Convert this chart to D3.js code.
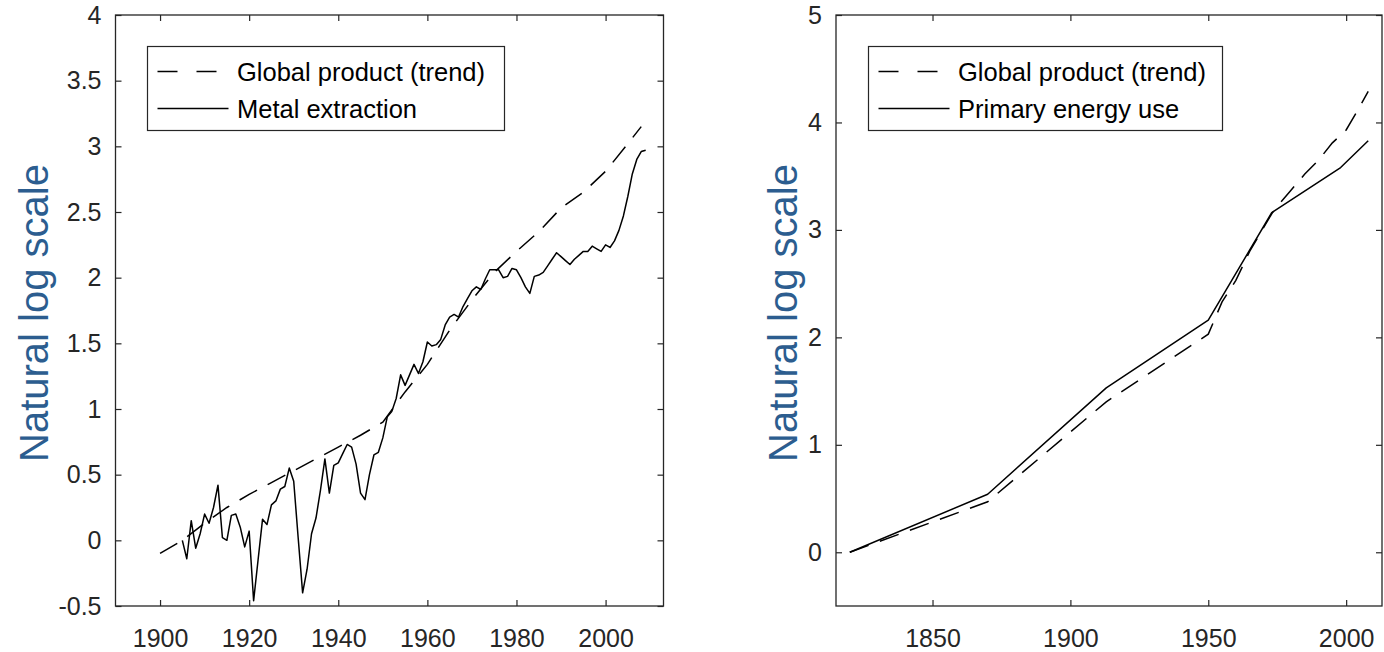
<!DOCTYPE html>
<html><head><meta charset="utf-8">
<script src="https://cdn.jsdelivr.net/npm/d3@7"></script>
<style>body{margin:0;background:#fff} svg{display:block}</style>
</head><body>
<svg id="c" width="1384" height="652"></svg>
<script>
// ---- Left panel data ----
const trendYearsA = [1900,1905,1910,1915,1920,1925,1930,1935,1940,1945,1950,1955,1960,1965,1970,1975,1980,1985,1990,1995,2000,2005,2008];
const trendValuesA = [-0.10,0.00,0.13,0.25,0.35,0.44,0.53,0.62,0.71,0.80,0.90,1.13,1.34,1.60,1.83,2.04,2.20,2.35,2.53,2.65,2.81,3.02,3.15];
const metalYears = [1905,1906,1907,1908,1909,1910,1911,1912,1913,1914,1915,1916,1917,1918,1919,1920,1921,1922,1923,1924,1925,1926,1927,1928,1929,1930,1931,1932,1933,1934,1935,1936,1937,1938,1939,1940,1941,1942,1943,1944,1945,1946,1947,1948,1949,1950,1951,1952,1953,1954,1955,1956,1957,1958,1959,1960,1961,1962,1963,1964,1965,1966,1967,1968,1969,1970,1971,1972,1973,1974,1975,1976,1977,1978,1979,1980,1981,1982,1983,1984,1985,1986,1987,1988,1989,1990,1991,1992,1993,1994,1995,1996,1997,1998,1999,2000,2001,2002,2003,2004,2005,2006,2007,2008,2009];
const metalValues = [0.00,-0.14,0.15,-0.06,0.05,0.20,0.13,0.25,0.42,0.02,0.00,0.19,0.20,0.10,-0.05,0.07,-0.46,-0.15,0.16,0.12,0.27,0.30,0.39,0.41,0.55,0.45,0.02,-0.40,-0.22,0.05,0.17,0.38,0.62,0.36,0.57,0.59,0.66,0.73,0.71,0.58,0.36,0.31,0.50,0.65,0.67,0.78,0.94,0.98,1.08,1.26,1.18,1.26,1.34,1.27,1.36,1.51,1.48,1.49,1.53,1.64,1.70,1.72,1.70,1.78,1.84,1.90,1.93,1.91,1.99,2.06,2.06,2.06,2.00,2.01,2.07,2.06,2.00,1.93,1.88,2.01,2.02,2.04,2.09,2.14,2.19,2.16,2.13,2.10,2.14,2.17,2.20,2.20,2.24,2.22,2.20,2.25,2.23,2.28,2.36,2.47,2.62,2.79,2.90,2.96,2.97];
const xTicksA = [1900,1920,1940,1960,1980,2000];
const yTicksA = [-0.5,0,0.5,1,1.5,2,2.5,3,3.5,4];
const legendA = ["Global product (trend)", "Metal extraction"];

// ---- Right panel data ----
const trendYearsB = [1820,1870,1913,1950,1955,1960,1965,1970,1973,1975,1980,1985,1990,1995,2000,2005,2008];
const trendValuesB = [0,0.47,1.40,2.03,2.33,2.53,2.80,3.02,3.15,3.22,3.37,3.52,3.65,3.81,3.93,4.15,4.29];
const energyYears = [1820,1870,1913,1950,1973,1998,2008];
const energyValues = [0,0.54,1.53,2.16,3.16,3.58,3.83];
const xTicksB = [1850,1900,1950,2000];
const yTicksB = [0,1,2,3,4,5];
const legendB = ["Global product (trend)", "Primary energy use"];

const yTitle = "Natural log scale";

const svg = d3.select("#c");
const FONT = "'Liberation Sans', Arial, Helvetica, sans-serif";
const AX = "#262626";

function panel(cfg) {
  const x = d3.scaleLinear().domain(cfg.xDomain).range([cfg.left, cfg.right]);
  const y = d3.scaleLinear().domain(cfg.yDomain).range([cfg.bottom, cfg.top]);
  const g = svg.append("g");

  const styleAxis = sel => {
    sel.selectAll("path.domain").remove();
    sel.selectAll(".tick line").attr("stroke", AX).attr("stroke-width", 1.2);
    sel.selectAll(".tick text").attr("fill", AX).style("font-family", FONT).style("font-size", "25px");
  };
  g.append("g").attr("transform", `translate(0,${cfg.bottom})`)
    .call(d3.axisBottom(x).tickValues(cfg.xTicks).tickSize(-6).tickSizeOuter(0).tickPadding(23).tickFormat(d => String(d)))
    .call(styleAxis);
  g.append("g").attr("transform", `translate(0,${cfg.top})`)
    .call(d3.axisTop(x).tickValues(cfg.xTicks).tickSize(-6).tickSizeOuter(0).tickFormat(""))
    .call(styleAxis);
  g.append("g").attr("transform", `translate(${cfg.left},0)`)
    .call(d3.axisLeft(y).tickValues(cfg.yTicks).tickSize(-6).tickSizeOuter(0).tickPadding(14).tickFormat(d => String(d)))
    .call(styleAxis);
  g.append("g").attr("transform", `translate(${cfg.right},0)`)
    .call(d3.axisRight(y).tickValues(cfg.yTicks).tickSize(-6).tickSizeOuter(0).tickFormat(""))
    .call(styleAxis);
  g.selectAll("text").attr("font-family", null);

  g.append("rect").attr("x", cfg.left).attr("y", cfg.top)
    .attr("width", cfg.right - cfg.left).attr("height", cfg.bottom - cfg.top)
    .attr("fill", "none").attr("stroke", AX).attr("stroke-width", 1.3);

  const line = d3.line().x(d => x(d[0])).y(d => y(d[1]));
  g.append("path").datum(d3.zip(cfg.trendYears, cfg.trendValues))
    .attr("d", line).attr("fill", "none").attr("stroke", "#000")
    .attr("stroke-width", 1.5).attr("stroke-dasharray", "20,12");
  g.append("path").datum(d3.zip(cfg.seriesYears, cfg.seriesValues))
    .attr("d", line).attr("fill", "none").attr("stroke", "#000")
    .attr("stroke-width", 1.5).attr("stroke-linejoin", "round");

  // y title
  g.append("text").attr("transform", `translate(${cfg.titleX},313) rotate(-90)`)
    .attr("text-anchor", "middle").attr("fill", "#2c5d8f")
    .style("font-family", FONT).style("font-size", "40px").text(yTitle);

  // legend
  const L = cfg.legend;
  g.append("rect").attr("x", L.x).attr("y", L.y).attr("width", L.w).attr("height", L.h)
    .attr("fill", "#fff").attr("stroke", AX).attr("stroke-width", 1.2);
  const rows = [{dash: "20,19", len: 60, y: L.y + 25}, {dash: null, len: 71, y: L.y + 62}];
  rows.forEach((r, i) => {
    const ln = g.append("line").attr("x1", L.x + 10).attr("x2", L.x + 10 + r.len)
      .attr("y1", r.y).attr("y2", r.y).attr("stroke", "#000").attr("stroke-width", 1.5);
    if (r.dash) ln.attr("stroke-dasharray", r.dash);
    g.append("text").attr("x", L.x + 89.5).attr("y", r.y + 9)
      .attr("fill", "#000").style("font-family", FONT).style("font-size", "25.5px")
      .text(cfg.legendLabels[i]);
  });
}

panel({
  xDomain: [1890, 2013], yDomain: [-0.5, 4], left: 115.5, right: 663.5, top: 15, bottom: 606,
  xTicks: xTicksA, yTicks: yTicksA,
  trendYears: trendYearsA, trendValues: trendValuesA,
  seriesYears: metalYears, seriesValues: metalValues,
  titleX: 48, legend: {x: 147.5, y: 46.5, w: 357, h: 84}, legendLabels: legendA
});
panel({
  xDomain: [1815, 2013], yDomain: [-0.5, 5], left: 836, right: 1382, top: 15, bottom: 606,
  xTicks: xTicksB, yTicks: yTicksB,
  trendYears: trendYearsB, trendValues: trendValuesB,
  seriesYears: energyYears, seriesValues: energyValues,
  titleX: 797, legend: {x: 868.5, y: 46.5, w: 354, h: 84}, legendLabels: legendB
});
</script>
</body></html>
